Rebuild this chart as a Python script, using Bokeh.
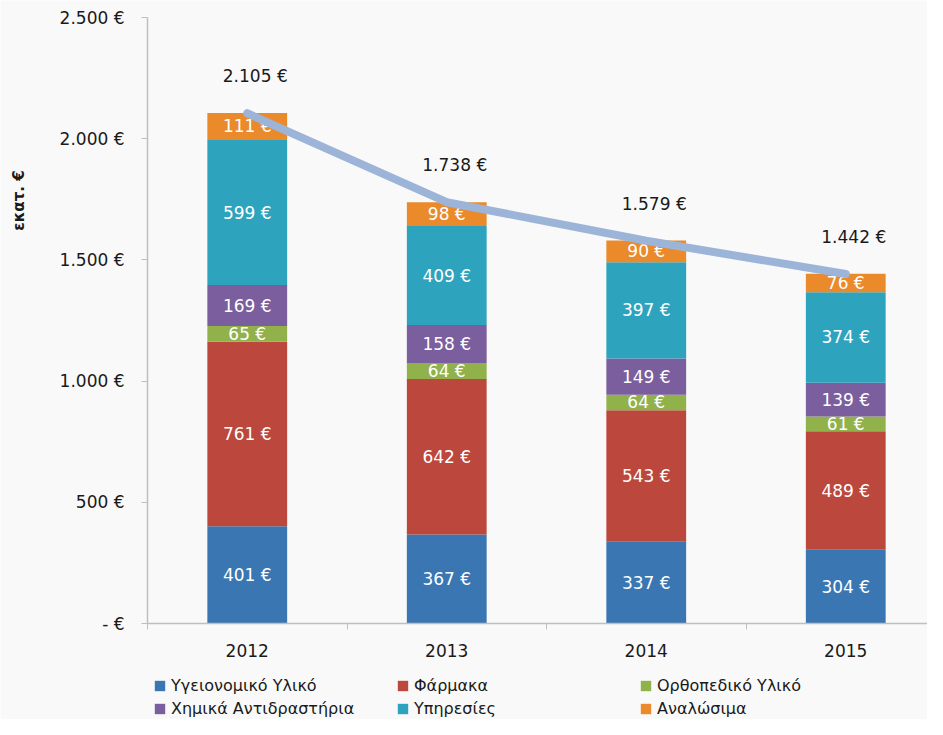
import math
from bokeh.plotting import figure
from bokeh.models import (ColumnDataSource, Range1d, FixedTicker, Legend, Label,
                          LegendItem, CustomJSTickFormatter)
from bokeh.core.properties import value
from bokeh.embed import file_html
from bokeh.resources import INLINE

# ---- data ----
years = ["2012", "2013", "2014", "2015"]
series_names = ["Υγειονομικό Υλικό", "Φάρμακα", "Ορθοπεδικό Υλικό",
                "Χημικά Αντιδραστήρια", "Υπηρεσίες", "Αναλώσιμα"]
ygeionomiko = [401, 367, 337, 304]
farmaka = [761, 642, 543, 489]
orthopediko = [65, 64, 64, 61]
chimika = [169, 158, 149, 139]
ypiresies = [599, 409, 397, 374]
analosima = [111, 98, 90, 76]
totals = [2105, 1738, 1579, 1442]
y_ticks = [0, 500, 1000, 1500, 2000, 2500]
y_title = "εκατ. €"

series_values = [ygeionomiko, farmaka, orthopediko, chimika, ypiresies, analosima]
colors = ["#3a76b2", "#bc473c", "#91b14b", "#7a5e9d", "#2ea3be", "#ea8a2b"]

FONT = "DejaVu Sans"
BG = "#f9f9f9"
W, H = 927, 719
PLOT_LEFT, PLOT_TOP, PLOT_BOTTOM = 147, 17, 623   # pixel layout of value area
Y_MAX = y_ticks[-1]
px_per_unit = (PLOT_BOTTOM - PLOT_TOP) / Y_MAX
band_px = 199.5


def fmt(v):
    if v == 0:
        return "- €"
    return f"{v:,}".replace(",", ".") + " €"


xs = [i + 0.5 for i in range(len(years))]

x_start = -PLOT_LEFT / band_px
x_end = (W - PLOT_LEFT) / band_px
y_start = -(H - PLOT_BOTTOM) / px_per_unit
y_end = Y_MAX + PLOT_TOP / px_per_unit

p = figure(width=W, height=H, output_backend="svg", toolbar_location=None,
           x_range=Range1d(x_start, x_end), y_range=Range1d(y_start, y_end),
           min_border_left=0, min_border_top=0, min_border_right=0,
           min_border_bottom=0)
p.background_fill_color = BG
p.border_fill_color = BG
p.outline_line_color = None
p.xgrid.visible = False
p.ygrid.visible = False

# ---- stacked bars ----
bottoms = [0] * len(years)
items = []
seg_x, seg_y, seg_t = [], [], []
for name, vals, col in zip(series_names, series_values, colors):
    tops = [b + v for b, v in zip(bottoms, vals)]
    src = ColumnDataSource(dict(x=xs, bottom=bottoms, top=tops))
    r = p.vbar(x="x", width=0.4, bottom="bottom", top="top", source=src,
               fill_color=col, line_color=None)
    items.append(LegendItem(label=name, renderers=[r]))
    for x, b, t, v in zip(xs, bottoms, tops, vals):
        seg_x.append(x)
        seg_y.append((b + t) / 2)
        seg_t.append(fmt(v))
    bottoms = tops

p.text(x=seg_x, y=seg_y, text=seg_t, text_color="white",
       text_font=value(FONT), text_font_size="17px",
       text_align="center", text_baseline="middle")

# ---- total line ----
p.line(x=xs, y=totals, line_color="#9db4d9", line_width=8, line_cap="round")
p.text(x=xs, y=totals, text=[fmt(t) for t in totals], text_color="#1a1a1a",
       text_font=value(FONT), text_font_size="17px", x_offset=8, y_offset=-37,
       text_align="center", text_baseline="middle")

# ---- axes ----
xa = p.xaxis[0]
xa.fixed_location = 0
xa.bounds = (0, 4)
xa.ticker = FixedTicker(ticks=xs, minor_ticks=[0, 1, 2, 3, 4])
xa.formatter = CustomJSTickFormatter(args=dict(labels=years),
                                     code="return labels[Math.floor(tick)];")
xa.major_tick_line_color = None
xa.minor_tick_line_color = "#bfbfbf"
xa.minor_tick_out = 6
xa.minor_tick_in = 0
xa.axis_line_color = "#bfbfbf"
xa.axis_line_width = 1.5
xa.major_label_text_font = FONT
xa.major_label_text_font_size = "17px"
xa.major_label_text_color = "#1a1a1a"
xa.major_label_standoff = 14

ya = p.yaxis[0]
ya.fixed_location = 0
ya.bounds = (0, Y_MAX)
ya.ticker = FixedTicker(ticks=y_ticks)
ya.formatter = CustomJSTickFormatter(code="""
if (tick == 0) return "- €";
const s = Math.round(tick).toString();
return s.replace(/\\B(?=(\\d{3})+(?!\\d))/g, ".") + " €";
""")
ya.major_tick_out = 6
ya.major_tick_in = 0
ya.minor_tick_line_color = None
ya.major_tick_line_color = "#bfbfbf"
ya.axis_line_color = "#bfbfbf"
ya.axis_line_width = 1.5
ya.major_label_text_font = FONT
ya.major_label_text_font_size = "17px"
ya.major_label_text_color = "#1a1a1a"
ya.major_label_standoff = 17

p.add_layout(Label(x=(18 - PLOT_LEFT) / band_px, y=1745, text=y_title,
                   angle=math.pi / 2,
                   text_font=FONT, text_font_size="15px", text_font_style="bold",
                   text_color="#1a1a1a", text_align="center",
                   text_baseline="middle"))

# ---- legend ----
legend = Legend(items=items, location=(153, 1), orientation="horizontal",
                ncols=3, margin=0, padding=0, spacing=4,
                glyph_width=13, glyph_height=13, label_standoff=5,
                label_width=221, label_height=19,
                label_text_font=FONT, label_text_font_size="16px",
                label_text_color="#1a1a1a",
                border_line_color=None, background_fill_alpha=0)
p.add_layout(legend, "center")

open("out.html", "w").write(file_html(p, INLINE))
